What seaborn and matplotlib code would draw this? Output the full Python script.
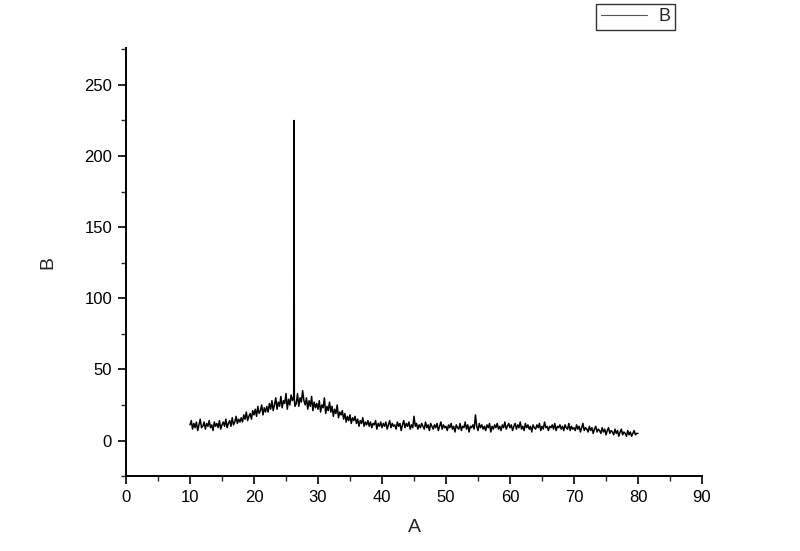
import numpy as np
import pandas as pd
import matplotlib
matplotlib.use("Agg")
import matplotlib.pyplot as plt
from matplotlib.ticker import MultipleLocator
import seaborn as sns

# scan grid, 0.2 step from 10 to 80
a_values = np.round(np.arange(10.0, 80.01, 0.2), 1)

# background intensities, 10 points per 2 units of A
b_values = [
    11, 14, 8, 12, 9, 13, 7, 11, 15, 9,
    10, 13, 8, 12, 10, 14, 9, 11, 7, 13,
    10, 12, 9, 14, 8, 11, 13, 10, 15, 9,
    12, 14, 10, 16, 11, 13, 17, 12, 15, 13,
    16, 13, 18, 15, 20, 14, 17, 19, 15, 21,
    18, 22, 17, 24, 19, 21, 25, 18, 23, 20,
    24, 20, 26, 22, 28, 21, 25, 30, 22, 27,
    24, 31, 23, 28, 26, 33, 22, 29, 25, 32,
    28, 31, 24, 26, 33, 24, 30, 27, 35, 28,
    25, 30, 22, 28, 24, 31, 21, 27, 23, 26,
    22, 28, 20, 25, 23, 30, 19, 24, 21, 27,
    20, 24, 17, 22, 19, 25, 16, 20, 18, 21,
    15, 19, 13, 17, 14, 18, 12, 16, 14, 17,
    12, 15, 10, 14, 12, 16, 10, 13, 11, 14,
    10, 13, 9, 12, 11, 14, 8, 12, 10, 13,
    9, 12, 10, 13, 8, 11, 14, 9, 12, 10,
    11, 8, 13, 10, 12, 7, 11, 14, 9, 12,
    10, 13, 8, 11, 9, 17, 10, 12, 8, 11,
    9, 12, 10, 8, 13, 9, 11, 7, 12, 10,
    8, 11, 9, 12, 7, 10, 13, 8, 11, 9,
    10, 7, 11, 9, 12, 8, 10, 6, 11, 9,
    8, 12, 7, 10, 9, 13, 8, 11, 6, 10,
    9, 11, 8, 18, 10, 7, 12, 9, 11, 8,
    10, 7, 11, 9, 12, 6, 10, 8, 11, 9,
    12, 8, 10, 7, 11, 9, 13, 8, 10, 12,
    9, 11, 7, 10, 12, 8, 11, 9, 13, 8,
    10, 7, 12, 9, 11, 8, 10, 6, 11, 9,
    8, 11, 9, 12, 7, 10, 8, 13, 9, 10,
    7, 10, 9, 11, 8, 12, 7, 10, 9, 11,
    8, 10, 7, 11, 9, 8, 12, 7, 10, 8,
    9, 7, 11, 8, 10, 6, 9, 12, 7, 9,
    8, 6, 10, 7, 9, 5, 8, 10, 6, 8,
    7, 5, 9, 6, 8, 4, 7, 9, 5, 7,
    6, 4, 8, 5, 7, 3, 6, 8, 4, 6,
    5, 3, 7, 4, 6, 3, 5, 7, 4, 5,
    5,
]

# the sharp reflection near 26.3
peak_a = [26.24, 26.26, 26.28, 26.30]
peak_b = [60, 225, 190, 29]

df = pd.DataFrame({"A": np.concatenate([a_values, peak_a]),
                   "B": np.concatenate([b_values, peak_b])}).sort_values("A")

sns.set_theme(style="ticks")
plt.rcParams["font.family"] = ["Liberation Sans", "DejaVu Sans"]

fig = plt.figure(figsize=(8, 5.51), dpi=100)
ax = fig.add_axes([0.1575, 0.136, 0.72, 0.777])

sns.lineplot(data=df, x="A", y="B", ax=ax, color="black", linewidth=1.1,
             label="B", legend=False, sort=False)

ax.set_xlim(0, 90)
ax.set_ylim(-25, 276)
ax.xaxis.set_major_locator(MultipleLocator(10))
ax.xaxis.set_minor_locator(MultipleLocator(5))
ax.yaxis.set_major_locator(MultipleLocator(50))
ax.yaxis.set_minor_locator(MultipleLocator(25))
ax.tick_params(which="major", direction="out", length=6, width=1.2, labelsize=12, colors="black", pad=4)
ax.tick_params(which="minor", direction="out", length=3.5, width=1.0)

for s in ["top", "right"]:
    ax.spines[s].set_visible(False)
for s in ["left", "bottom"]:
    ax.spines[s].set_linewidth(1.4)
    ax.spines[s].set_color("black")

ax.set_xlabel("A", fontsize=14, labelpad=10)
ax.set_ylabel("B", fontsize=14, labelpad=20)

handles, labels = ax.get_legend_handles_labels()
leg = fig.legend(handles, labels, loc="upper left", bbox_to_anchor=(0.745, 0.993),
                 fontsize=13, frameon=True, fancybox=False, edgecolor="black",
                 handlelength=2.6, borderpad=0.25, handletextpad=0.6, borderaxespad=0)
leg.get_frame().set_linewidth(1.0)
leg.get_lines()[0].set_color("#555555")
leg.get_lines()[0].set_linewidth(0.8)

fig.savefig("out.png", dpi=100)
